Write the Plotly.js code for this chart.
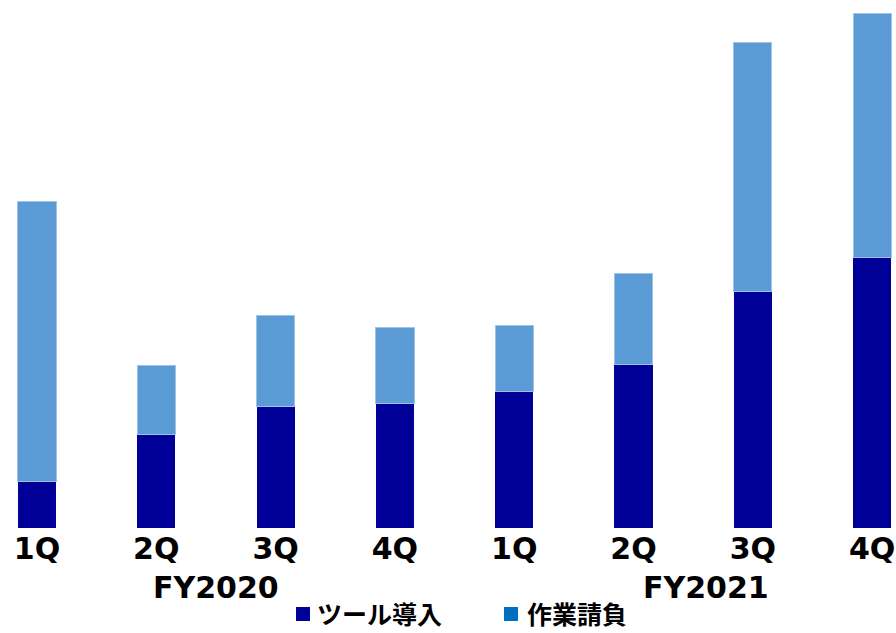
<!DOCTYPE html>
<html>
<head>
<meta charset="utf-8">
<script src="https://cdn.plot.ly/plotly-3.0.1.min.js"></script>
<style>html,body{margin:0;padding:0;background:#fff;}#chart{width:896px;height:633px;}</style>
</head>
<body>
<div id="chart"></div>
<script>
// Data (relative values)
const categories = ["FY2020 1Q","FY2020 2Q","FY2020 3Q","FY2020 4Q","FY2021 1Q","FY2021 2Q","FY2021 3Q","FY2021 4Q"];
const tickLabels = ["1Q","2Q","3Q","4Q","1Q","2Q","3Q","4Q"];
const toolIntro = [47, 94, 122, 125, 137, 164, 237, 271];      // ツール導入
const contractWork = [280, 69, 91, 76, 66, 91, 249, 244];      // 作業請負
const seriesNames = ["ツール導入", "作業請負"];
const yearLabels = ["FY2020", "FY2021"];

const xIdx = categories.map((c, i) => i);
const FONT = "DejaVu Sans, Verdana, Noto Sans CJK JP, sans-serif";
const JFONT = "Noto Sans CJK JP, DejaVu Sans, sans-serif";

const traces = [
  {type: "bar", x: xIdx, y: toolIntro, name: seriesNames[0], width: 0.32,
   marker: {color: "#000099"}, showlegend: false, hoverinfo: "skip"},
  {type: "bar", x: xIdx, y: contractWork, name: seriesNames[1], width: 0.32,
   marker: {color: "#5B9BD5", line: {color: "#9DC3E6", width: 1}}, showlegend: false, hoverinfo: "skip"}
];

const legY = (528 - 632) / 528;
const py = p => (528 - p) / 528;

const layout = {
  width: 896, height: 633,
  margin: {l: 0, r: 0, t: 0, b: 105, pad: 0},
  paper_bgcolor: "#ffffff", plot_bgcolor: "#ffffff",
  barmode: "stack",
  showlegend: false,
  xaxis: {range: [-0.31, 7.2], tickvals: xIdx, ticktext: tickLabels, showgrid: false,
          zeroline: false, showline: false, ticks: "",
          tickfont: {family: FONT, size: 30, color: "#000", weight: "bold"}},
  yaxis: {range: [0, 528], visible: false, showgrid: false, zeroline: false},
  annotations: [
    {text: yearLabels[0], x: 1.5, xref: "x", y: -0.1136, yref: "paper", showarrow: false,
     xanchor: "center", yanchor: "middle", font: {family: FONT, size: 30, color: "#000", weight: "bold"}},
    {text: yearLabels[1], x: 5.61, xref: "x", y: -0.1136, yref: "paper", showarrow: false,
     xanchor: "center", yanchor: "middle", font: {family: FONT, size: 30, color: "#000", weight: "bold"}},
    {text: seriesNames[0], x: 316/896, xref: "paper", y: legY, yref: "paper", showarrow: false,
     xanchor: "left", yanchor: "bottom", borderpad: 0, font: {family: JFONT, size: 25, color: "#000", weight: "bold"}},
    {text: seriesNames[1], x: 526/896, xref: "paper", y: legY, yref: "paper", showarrow: false,
     xanchor: "left", yanchor: "bottom", borderpad: 0, font: {family: JFONT, size: 25, color: "#000", weight: "bold"}}
  ],
  shapes: [
    {type: "rect", xref: "paper", yref: "paper", x0: 296/896, x1: 310/896,
     y0: py(621), y1: py(607), fillcolor: "#000099", line: {width: 0}},
    {type: "rect", xref: "paper", yref: "paper", x0: 504/896, x1: 518/896,
     y0: py(621), y1: py(607), fillcolor: "#0070C0", line: {width: 0}}
  ]
};

Plotly.newPlot("chart", traces, layout, {displayModeBar: false, staticPlot: true});
</script>
</body>
</html>
